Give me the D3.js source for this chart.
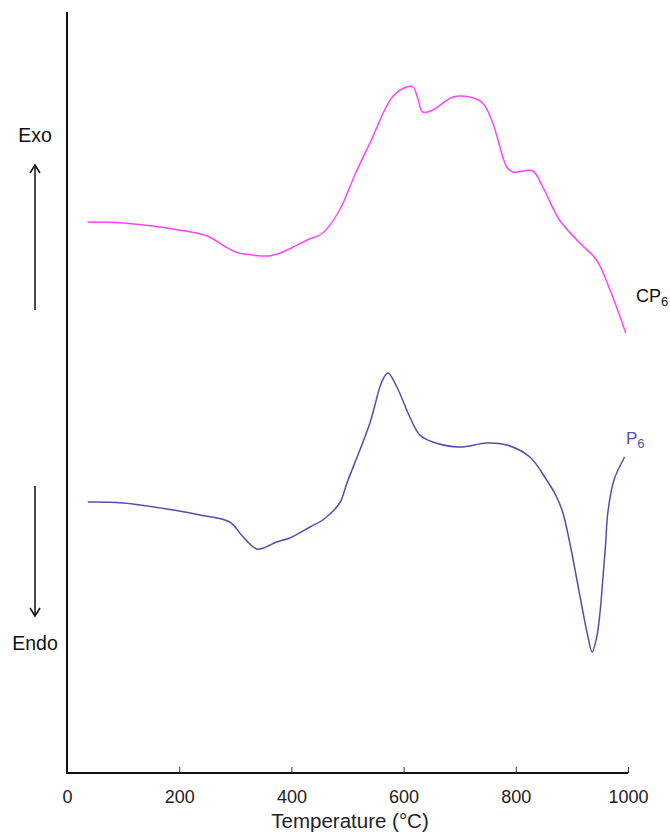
<!DOCTYPE html>
<html><head><meta charset="utf-8">
<script src="https://cdn.jsdelivr.net/npm/d3@7"></script>
<style>body{margin:0;background:#fff;} text{font-family:"Liberation Sans",Arial,sans-serif;}</style>
</head><body>
<svg id="chart" width="670" height="832"></svg>
<script>
// Temperature (°C) and DTA signal (arbitrary units)
const cp6Temp = [37,100,200,250,280,300,330,360,380,400,428,456,486,513,540,580,605,617,625,634,652,688,718,741,759,784,795,830,848,878,914,944,968,996];
const cp6Signal = [551,550,543,537,527,521,518,517,520,525,533,540,563,598,630,676,686,686,675,661,663,676,676,670,650,606,601,602,586,553,530,513,483,440];
const p6Temp = [37,100,200,237,290,314,338,350,374,397,433,456,486,499,540,561,572,588,611,629,652,700,748,784,825,855,872,884,897,909,920,928,936,944,950,955,960,964,975,994];
const p6Signal = [271,270,262,258,251,236,224,225,231,235,246,253,270,290,350,391,400,386,356,338,331,326,330,328,316,293,277,260,228,193,160,138,121,135,160,193,228,260,293,316];
const xTicks = [0,200,400,600,800,1000];

const svg = d3.select("#chart");
const x = d3.scaleLinear().domain([0,1000]).range([67,628]);
const y = d3.scaleLinear().domain([0,761]).range([773,12]);

const line = d3.line().x(d=>x(d[0])).y(d=>y(d[1])).curve(d3.curveCatmullRom.alpha(0.5));

svg.append("path").datum(cp6Temp.map((t,i)=>[t,cp6Signal[i]]))
  .attr("d",line).attr("fill","none").attr("stroke","#ff44ff").attr("stroke-width",1.5);
svg.append("path").datum(p6Temp.map((t,i)=>[t,p6Signal[i]]))
  .attr("d",line).attr("fill","none").attr("stroke","#5050ac").attr("stroke-width",1.5);

// x axis
const xAxis = d3.axisBottom(x).tickValues(xTicks).tickSize(-6).tickPadding(17).tickFormat(d3.format("d"));
const gx = svg.append("g").attr("transform","translate(0,773)").call(xAxis);
gx.select(".domain").attr("stroke","#111").attr("stroke-width",2).attr("d","M67,0H628");
gx.selectAll(".tick line").attr("stroke","#333").attr("stroke-width",1);
gx.selectAll(".tick text").attr("font-size",18).attr("fill","#222").attr("font-family","Liberation Sans, Arial, sans-serif");

// y axis line
svg.append("line").attr("x1",67).attr("x2",67).attr("y1",12).attr("y2",774)
  .attr("stroke","#111").attr("stroke-width",2);

svg.append("text").attr("x",350).attr("y",828).attr("text-anchor","middle")
  .attr("font-size",20.5).attr("fill","#222").text("Temperature (°C)");

// Exo / Endo
svg.append("text").attr("x",35).attr("y",142).attr("text-anchor","middle").attr("font-size",19.5).attr("fill","#111").text("Exo");
svg.append("text").attr("x",35).attr("y",650).attr("text-anchor","middle").attr("font-size",19.5).attr("fill","#111").text("Endo");
svg.append("line").attr("x1",35).attr("x2",35).attr("y1",310).attr("y2",166).attr("stroke","#111").attr("stroke-width",1.5);
svg.append("path").attr("d","M30,173L35,165L40,173").attr("fill","none").attr("stroke","#111").attr("stroke-width",1.5);
svg.append("line").attr("x1",35).attr("x2",35).attr("y1",486).attr("y2",615).attr("stroke","#111").attr("stroke-width",1.5);
svg.append("path").attr("d","M30,608L35,616L40,608").attr("fill","none").attr("stroke","#111").attr("stroke-width",1.5);

// series labels
const l1 = svg.append("text").attr("x",636).attr("y",302).attr("font-size",18).attr("fill","#111");
l1.append("tspan").text("CP");
l1.append("tspan").attr("dy",4).attr("font-size",13).text("6");
const l2 = svg.append("text").attr("x",626).attr("y",444).attr("font-size",17).attr("fill","#5050ac");
l2.append("tspan").text("P");
l2.append("tspan").attr("dy",4).attr("font-size",13).text("6");
</script>
</body></html>
